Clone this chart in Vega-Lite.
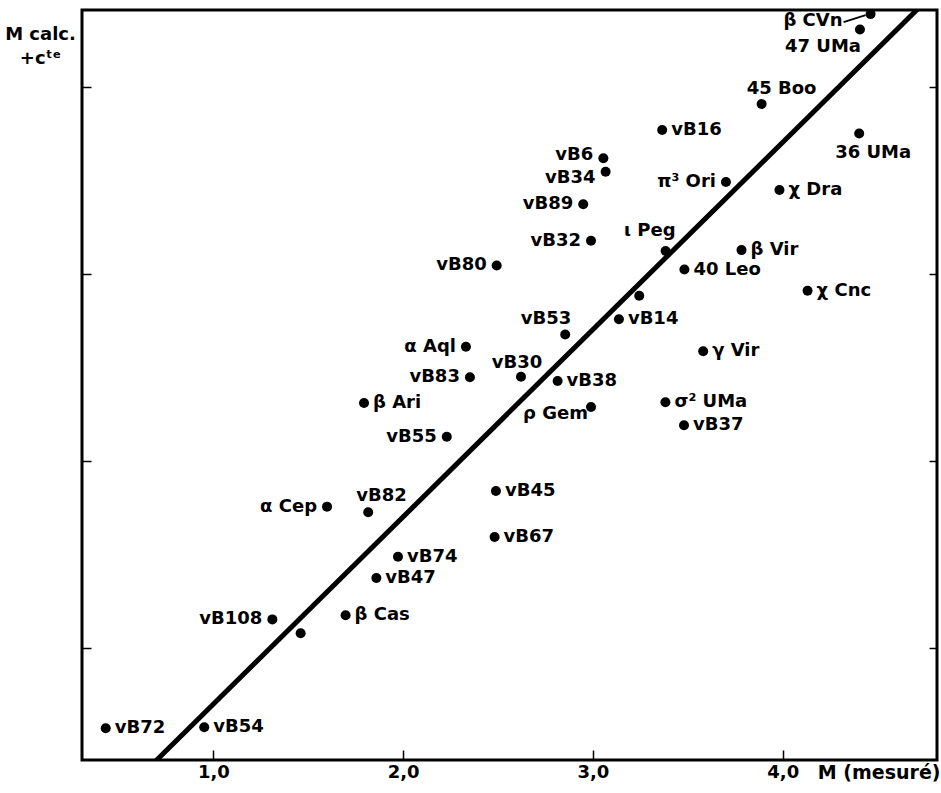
{
  "$schema": "https://vega.github.io/schema/vega-lite/v6.json",
  "width": 855,
  "height": 750,
  "autosize": {"type": "none"},
  "padding": {"left": 82, "top": 10, "right": 4, "bottom": 33},
  "background": "white",
  "config": {
    "view": {"stroke": "black", "strokeWidth": 3},
    "axis": {"grid": false},
    "text": {"font": "DejaVu Sans", "fontWeight": "bold", "fontSize": 18, "color": "black", "baseline": "middle"}
  },
  "datasets": {
    "stars": [
      {"star": "vB16", "x": 3.365, "y": 3.770},
      {"star": "vB6", "x": 3.055, "y": 3.619},
      {"star": "vB34", "x": 3.067, "y": 3.547},
      {"star": "vB89", "x": 2.949, "y": 3.373},
      {"star": "vB32", "x": 2.990, "y": 3.178},
      {"star": "vB80", "x": 2.493, "y": 3.046},
      {"star": "π³ Ori", "x": 3.701, "y": 3.492},
      {"star": "ι Peg", "x": 3.383, "y": 3.123},
      {"star": "β Vir", "x": 3.783, "y": 3.128},
      {"star": "40 Leo", "x": 3.482, "y": 3.024},
      {"star": "", "x": 3.244, "y": 2.884},
      {"star": "χ Dra", "x": 3.983, "y": 3.449},
      {"star": "vB14", "x": 3.137, "y": 2.758},
      {"star": "vB53", "x": 2.854, "y": 2.677},
      {"star": "α Aql", "x": 2.331, "y": 2.611},
      {"star": "γ Vir", "x": 3.581, "y": 2.587},
      {"star": "vB83", "x": 2.352, "y": 2.448},
      {"star": "vB30", "x": 2.621, "y": 2.451},
      {"star": "vB38", "x": 2.814, "y": 2.428},
      {"star": "β Ari", "x": 1.794, "y": 2.310},
      {"star": "ρ Gem", "x": 2.990, "y": 2.289},
      {"star": "σ² UMa", "x": 3.382, "y": 2.314},
      {"star": "vB37", "x": 3.480, "y": 2.191},
      {"star": "vB55", "x": 2.230, "y": 2.130},
      {"star": "vB45", "x": 2.489, "y": 1.840},
      {"star": "α Cep", "x": 1.599, "y": 1.756},
      {"star": "vB82", "x": 1.816, "y": 1.726},
      {"star": "vB67", "x": 2.482, "y": 1.594},
      {"star": "vB74", "x": 1.973, "y": 1.488},
      {"star": "vB47", "x": 1.859, "y": 1.374},
      {"star": "β Cas", "x": 1.697, "y": 1.175},
      {"star": "vB108", "x": 1.311, "y": 1.153},
      {"star": " ", "x": 1.460, "y": 1.079},
      {"star": "vB72", "x": 0.433, "y": 0.571},
      {"star": "vB54", "x": 0.952, "y": 0.576},
      {"star": "χ Cnc", "x": 4.131, "y": 2.911},
      {"star": "β CVn", "x": 4.463, "y": 4.390},
      {"star": "47 UMa", "x": 4.407, "y": 4.308},
      {"star": "36 UMa", "x": 4.403, "y": 3.752},
      {"star": "45 Boo", "x": 3.889, "y": 3.909}
    ],
    "fit": [
      {"x": 0.65, "y": 0.349},
      {"x": 4.76, "y": 4.466}
    ]
  },
  "data": {"name": "stars"},
  "encoding": {
    "x": {
      "field": "x", "type": "quantitative",
      "scale": {"domain": [0.308, 4.813], "nice": false, "zero": false},
      "axis": {
        "orient": "bottom", "values": [1, 2, 3, 4], "domain": false,
        "tickSize": -10, "tickWidth": 1.5, "tickColor": "black",
        "labelExpr": "replace(format(datum.value, '.1f'), '.', ',')",
        "labelFont": "DejaVu Sans", "labelFontWeight": "bold", "labelFontSize": 18, "labelColor": "black",
        "labelPadding": 13,
        "title": "M (mesuré)", "titleFont": "DejaVu Sans", "titleFontWeight": "bold", "titleFontSize": 19,
        "titleColor": "black", "titleAnchor": "end", "titleAlign": "right", "titleBaseline": "top",
        "titleX": 858, "titleY": 3
      }
    },
    "y": {
      "field": "y", "type": "quantitative",
      "scale": {"domain": [0.401, 4.412], "nice": false, "zero": false},
      "axis": null
    }
  },
  "layer": [
    {
      "data": {"name": "fit"},
      "mark": {"type": "line", "color": "black", "strokeWidth": 5, "clip": true, "strokeCap": "butt"},
      "encoding": {
        "y": {
          "field": "y", "type": "quantitative",
          "scale": {"domain": [0.401, 4.412], "nice": false, "zero": false},
          "axis": {"orient": "right", "values": [1, 2, 3, 4], "domain": false, "labels": false,
                   "tickSize": -8, "tickWidth": 1.5, "tickColor": "black", "title": null}
        }
      }
    },
    {
      "mark": {"type": "circle", "size": 100, "color": "black", "opacity": 1},
      "encoding": {
        "y": {
          "field": "y", "type": "quantitative",
          "scale": {"domain": [0.401, 4.412], "nice": false, "zero": false},
          "axis": {"orient": "left", "values": [1, 2, 3, 4], "domain": false, "labels": false,
                   "tickSize": -9, "tickWidth": 1.5, "tickColor": "black",
                   "title": ["M calc.", "+cᵗᵉ"], "titleAngle": 0, "titleX": -42, "titleY": 15,
                   "titleAlign": "center", "titleBaseline": "top", "titleFont": "DejaVu Sans",
                   "titleFontWeight": "bold", "titleFontSize": 18, "titleLineHeight": 24, "titleColor": "black"}
        }
      }
    },
    {
      "transform": [{"filter": {"field": "star", "equal": "β CVn"}}],
      "mark": {"type": "rule", "color": "black", "strokeWidth": 2, "xOffset": -27, "x2Offset": -5, "yOffset": 8, "y2Offset": 1},
      "encoding": {"x2": {"field": "x"}, "y2": {"field": "y"}}
    },
    {
      "transform": [{"filter": {"field": "star", "oneOf": ["vB16", "vB14", "vB38", "γ Vir", "σ² UMa", "vB37", "β Ari", "β Cas", "vB45", "vB67", "vB74", "vB47", "vB72", "vB54", "χ Dra", "β Vir", "40 Leo", "χ Cnc"]}}],
      "mark": {"type": "text", "align": "left", "dx": 9},
      "encoding": {"text": {"field": "star"}}
    },
    {
      "transform": [{"filter": {"field": "star", "oneOf": ["vB89", "vB32", "vB80", "π³ Ori", "α Aql", "vB83", "vB55", "α Cep", "vB108"]}}],
      "mark": {"type": "text", "align": "right", "dx": -10},
      "encoding": {"text": {"field": "star"}}
    },
    {
      "transform": [{"filter": {"field": "star", "equal": "vB6"}}],
      "mark": {"type": "text", "align": "right", "dx": -10, "dy": -3},
      "encoding": {"text": {"field": "star"}}
    },
    {
      "transform": [{"filter": {"field": "star", "equal": "vB34"}}],
      "mark": {"type": "text", "align": "right", "dx": -10, "dy": 6},
      "encoding": {"text": {"field": "star"}}
    },
    {
      "transform": [{"filter": {"field": "star", "equal": "ρ Gem"}}],
      "mark": {"type": "text", "align": "right", "dx": -3, "dy": 7},
      "encoding": {"text": {"field": "star"}}
    },
    {
      "transform": [{"filter": {"field": "star", "equal": "vB53"}}],
      "mark": {"type": "text", "align": "right", "dx": 6, "dy": -15},
      "encoding": {"text": {"field": "star"}}
    },
    {
      "transform": [{"filter": {"field": "star", "equal": "vB30"}}],
      "mark": {"type": "text", "align": "center", "dx": -4, "dy": -14},
      "encoding": {"text": {"field": "star"}}
    },
    {
      "transform": [{"filter": {"field": "star", "equal": "vB82"}}],
      "mark": {"type": "text", "align": "left", "dx": -12, "dy": -16},
      "encoding": {"text": {"field": "star"}}
    },
    {
      "transform": [{"filter": {"field": "star", "equal": "ι Peg"}}],
      "mark": {"type": "text", "align": "right", "dx": 10, "dy": -20},
      "encoding": {"text": {"field": "star"}}
    },
    {
      "transform": [{"filter": {"field": "star", "equal": "45 Boo"}}],
      "mark": {"type": "text", "align": "left", "dx": -15, "dy": -15},
      "encoding": {"text": {"field": "star"}}
    },
    {
      "transform": [{"filter": {"field": "star", "equal": "36 UMa"}}],
      "mark": {"type": "text", "align": "left", "dx": -24, "dy": 20},
      "encoding": {"text": {"field": "star"}}
    },
    {
      "transform": [{"filter": {"field": "star", "equal": "47 UMa"}}],
      "mark": {"type": "text", "align": "right", "dx": 1, "dy": 18},
      "encoding": {"text": {"field": "star"}}
    },
    {
      "transform": [{"filter": {"field": "star", "equal": "β CVn"}}],
      "mark": {"type": "text", "align": "right", "dx": -28, "dy": 7},
      "encoding": {"text": {"field": "star"}}
    }
  ],
  "resolve": {"axis": {"y": "independent"}}
}
